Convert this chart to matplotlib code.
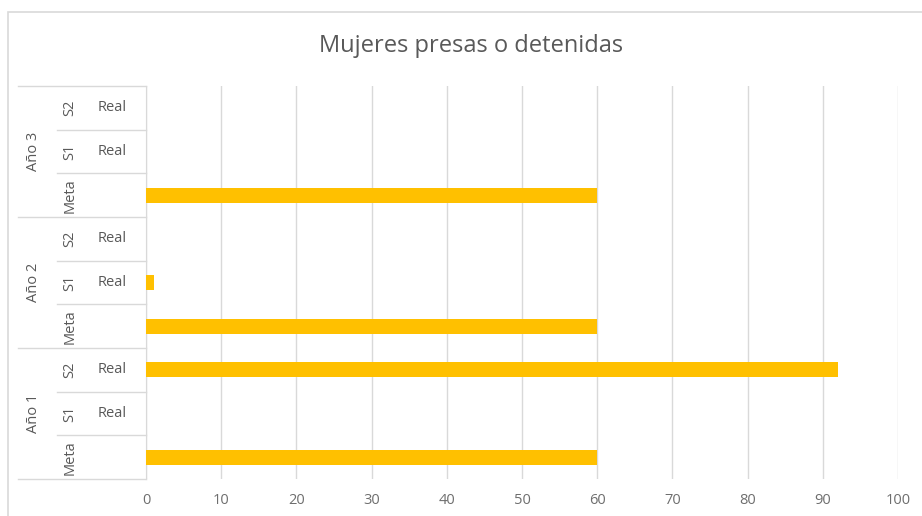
import numpy as np
import matplotlib.pyplot as plt
from matplotlib.transforms import blended_transform_factory
from matplotlib.patches import Rectangle

plt.rcParams['font.family'] = ['Open Sans', 'DejaVu Sans']

# datos
anios = ["Año 1", "Año 2", "Año 3"]
subcats = ["Meta", "S1", "S2"]
sublabels = ["", "Real", "Real"]
valores = [60, 0, 92,   # Año 1
           60, 1, 0,    # Año 2
           60, 0, 0]    # Año 3
xticks = list(range(0, 101, 10))

gris = "#595959"
linea = "#d9d9d9"

fig = plt.figure(figsize=(9.22, 5.16), dpi=100)
ax = fig.add_axes([146 / 922, 1 - 479 / 516, (898 - 146) / 922, (479 - 86) / 516])

y = np.arange(len(valores))
ax.barh(y, valores, height=0.34, color="#FFC000", zorder=3)

ax.set_xlim(0, 100)
ax.set_ylim(-0.5, len(valores) - 0.5)
ax.set_xticks(xticks)
ax.set_xticklabels([str(t) for t in xticks], color="#6e6e6e", fontsize=10.5)
ax.tick_params(axis='x', length=0, pad=10)
ax.set_yticks([])
ax.grid(axis='x', color=linea, linewidth=1, zorder=0)
for s in ["top", "right", "bottom"]:
    ax.spines[s].set_visible(False)
ax.spines["left"].set_color(linea)

# titulo
fig.text(471 / 922, 1 - 46 / 516, "Mujeres presas o detenidas", ha='center', va='center',
         fontsize=17, color=gris)

# tabla de categorias
tr = blended_transform_factory(fig.transFigure, ax.transData)
x_year = 18 / 922
x_sub = 57 / 922
x_axis = 146 / 922
n = len(valores)
for k in range(n + 1):
    x0 = x_year if k % 3 == 0 else x_sub
    ax.plot([x0, x_axis], [k - 0.5, k - 0.5], transform=tr, color=linea,
            linewidth=1, clip_on=False)
for k in range(n):
    ax.text(70 / 922, k, subcats[k % 3], transform=tr, rotation=90,
            ha='center', va='center', fontsize=10.5, color=gris)
    if sublabels[k % 3]:
        ax.text(112 / 922, k, sublabels[k % 3], transform=tr,
                ha='center', va='center', fontsize=10.5, color=gris)
for i, a in enumerate(anios):
    ax.text(33 / 922, 3 * i + 1, a, transform=tr, rotation=90,
            ha='center', va='center', fontsize=10.5, color=gris)

# borde del grafico
fig.patches.append(Rectangle((8 / 922, -0.1), 1.2, 1 - 12 / 516 + 0.1,
                             transform=fig.transFigure, fill=False,
                             edgecolor=linea, linewidth=1.2))

fig.savefig("out.png", dpi=100)
